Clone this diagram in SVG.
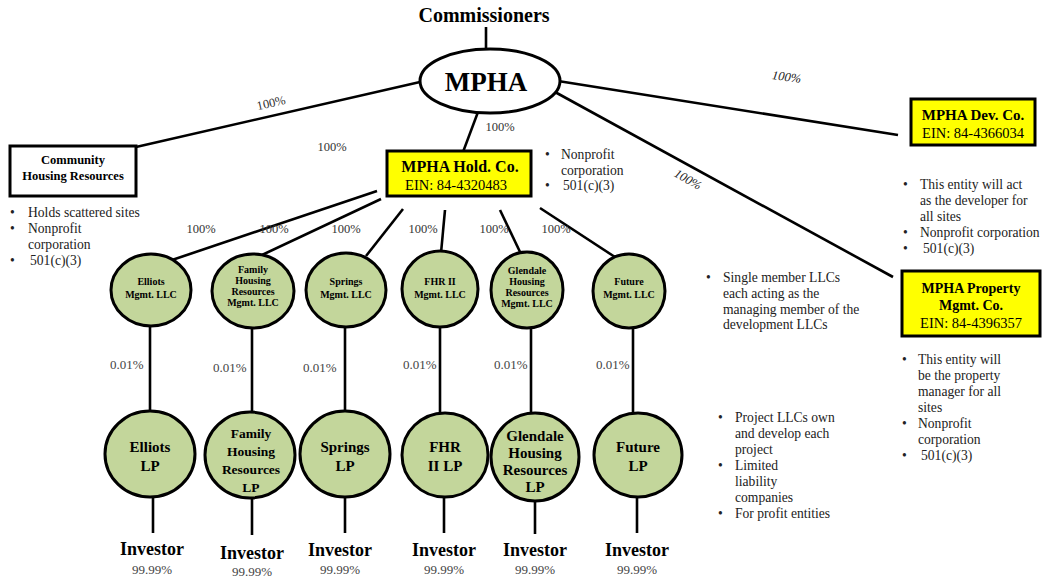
<svg xmlns="http://www.w3.org/2000/svg" width="1044" height="579" viewBox="0 0 1044 579">
<style>
text{font-family:"Liberation Serif","Times New Roman",serif;fill:#000}
.b{font-weight:bold}
.c{text-anchor:middle}
.lbl{font-size:12.5px;fill:#333}
.pc{font-size:13px;fill:#444}
.it{font-size:12.5px;font-style:italic;fill:#222}
.bul{font-size:13.6px;fill:#222}
.ln{stroke:#000;stroke-width:2.6;fill:none}
.g{fill:#c3d69b;stroke:#000;stroke-width:3}
.y{fill:#ffff00;stroke:#000;stroke-width:3}
.w{fill:#fff;stroke:#000;stroke-width:3}
.m{font-size:10px;font-weight:bold}
.lp{font-size:15px;font-weight:bold}
.lps{font-size:13.5px;font-weight:bold}
.inv{font-size:18px;font-weight:bold}
</style>
<rect width="1044" height="579" fill="#fff"/>
<g id="connectors">
<line class="ln" x1="486" y1="27" x2="486" y2="49"/>
<line class="ln" x1="420" y1="82" x2="136" y2="147"/>
<line class="ln" x1="478" y1="112" x2="463" y2="152"/>
<line class="ln" x1="558" y1="81" x2="898" y2="135"/>
<line class="ln" x1="555" y1="92" x2="893" y2="277"/>
<line class="ln" x1="377" y1="191" x2="172" y2="260"/>
<line class="ln" x1="381" y1="199" x2="262" y2="255"/>
<line class="ln" x1="403" y1="209" x2="366" y2="256"/>
<line class="ln" x1="445" y1="210" x2="441" y2="253"/>
<line class="ln" x1="500" y1="210" x2="521" y2="254"/>
<line class="ln" x1="540" y1="208" x2="615" y2="257"/>
<line class="ln" x1="150" y1="326" x2="150" y2="411"/>
<line class="ln" x1="252" y1="328" x2="252" y2="413"/>
<line class="ln" x1="345" y1="327" x2="345" y2="411"/>
<line class="ln" x1="440" y1="327" x2="440" y2="413"/>
<line class="ln" x1="531" y1="328" x2="531" y2="413"/>
<line class="ln" x1="633" y1="328" x2="633" y2="413"/>
<line class="ln" x1="153" y1="497" x2="153" y2="533"/>
<line class="ln" x1="252" y1="498" x2="252" y2="535"/>
<line class="ln" x1="345" y1="497" x2="345" y2="533"/>
<line class="ln" x1="444" y1="497" x2="444" y2="533"/>
<line class="ln" x1="535" y1="500" x2="535" y2="534"/>
<line class="ln" x1="637" y1="497" x2="637" y2="533"/>
<text class="lbl" transform="translate(272,107) rotate(-13)" text-anchor="middle">100%</text>
<text class="lbl c" x="500" y="131">100%</text>
<text class="lbl c" x="332" y="151">100%</text>
<text class="it c" transform="translate(786,81) rotate(8)">100%</text>
<text class="it c" transform="translate(686,183) rotate(30)">100%</text>
<text class="lbl c" x="201" y="233">100%</text>
<text class="lbl c" x="274" y="233">100%</text>
<text class="lbl c" x="346" y="233">100%</text>
<text class="lbl c" x="423" y="233">100%</text>
<text class="lbl c" x="494" y="233">100%</text>
<text class="lbl c" x="556" y="233">100%</text>
<text class="pc" x="110" y="369">0.01%</text>
<text class="pc" x="213" y="372">0.01%</text>
<text class="pc" x="303" y="372">0.01%</text>
<text class="pc" x="403" y="369">0.01%</text>
<text class="pc" x="494" y="369">0.01%</text>
<text class="pc" x="596" y="369">0.01%</text>
</g>
<g id="commissioners"><text class="b c" x="484" y="22" font-size="20">Commissioners</text></g>
<g id="mpha"><ellipse class="w" cx="490" cy="81" rx="70" ry="32"/><text class="b c" x="486" y="91" font-size="27">MPHA</text></g>
<g id="chr">
<rect class="w" x="10" y="146" width="126" height="50"/>
<text class="b c" x="73" y="164" font-size="12.5">Community</text>
<text class="b c" x="73" y="180" font-size="12.5">Housing Resources</text>
<text class="bul" x="10" y="217">•</text><text class="bul" x="28" y="217">Holds scattered sites</text>
<text class="bul" x="10" y="233">•</text><text class="bul" x="28" y="233">Nonprofit</text>
<text class="bul" x="28" y="249">corporation</text>
<text class="bul" x="10" y="265">•</text><text class="bul" x="30" y="265">501(c)(3)</text>
</g>
<g id="holdco">
<rect class="y" x="387" y="151" width="144" height="45"/>
<text class="b c" x="460" y="172" font-size="16">MPHA Hold. Co.</text>
<text class="c" x="456" y="190" font-size="14.5">EIN: 84-4320483</text>
<text class="bul" x="545" y="159">•</text><text class="bul" x="561" y="159">Nonprofit</text>
<text class="bul" x="561" y="175">corporation</text>
<text class="bul" x="545" y="190">•</text><text class="bul" x="563" y="190">501(c)(3)</text>
</g>
<g id="devco">
<rect class="y" x="911" y="99" width="124" height="46"/>
<text class="b c" x="973" y="120" font-size="15">MPHA Dev. Co.</text>
<text class="c" x="973" y="138" font-size="14.5">EIN: 84-4366034</text>
<text class="bul" x="903" y="189">•</text><text class="bul" x="920" y="189">This entity will act</text>
<text class="bul" x="920" y="205">as the developer for</text>
<text class="bul" x="920" y="221">all sites</text>
<text class="bul" x="903" y="237">•</text><text class="bul" x="920" y="237">Nonprofit corporation</text>
<text class="bul" x="903" y="253">•</text><text class="bul" x="923" y="253">501(c)(3)</text>
</g>
<g id="propco">
<rect class="y" x="902" y="271" width="138" height="65"/>
<text class="b c" x="971" y="293" font-size="14">MPHA Property</text>
<text class="b c" x="971" y="310" font-size="14">Mgmt. Co.</text>
<text class="c" x="971" y="328" font-size="14.5">EIN: 84-4396357</text>
<text class="bul" x="902" y="364">•</text><text class="bul" x="918" y="364">This entity will</text>
<text class="bul" x="918" y="380">be the property</text>
<text class="bul" x="918" y="396">manager for all</text>
<text class="bul" x="918" y="412">sites</text>
<text class="bul" x="902" y="428">•</text><text class="bul" x="918" y="428">Nonprofit</text>
<text class="bul" x="918" y="444">corporation</text>
<text class="bul" x="902" y="460">•</text><text class="bul" x="921" y="460">501(c)(3)</text>
</g>
<g id="note-llc">
<text class="bul" x="706" y="282">•</text><text class="bul" x="723" y="282">Single member LLCs</text>
<text class="bul" x="723" y="298">each acting as the</text>
<text class="bul" x="723" y="314">managing member of the</text>
<text class="bul" x="723" y="329">development LLCs</text>
</g>
<g id="note-project">
<text class="bul" x="718" y="422">•</text><text class="bul" x="735" y="422">Project LLCs own</text>
<text class="bul" x="735" y="438">and develop each</text>
<text class="bul" x="735" y="454">project</text>
<text class="bul" x="718" y="470">•</text><text class="bul" x="735" y="470">Limited</text>
<text class="bul" x="735" y="486">liability</text>
<text class="bul" x="735" y="502">companies</text>
<text class="bul" x="718" y="518">•</text><text class="bul" x="735" y="518">For profit entities</text>
</g>
<g id="elliots-mgmt"><ellipse class="g" cx="151" cy="290" rx="40" ry="36"/><text class="m c" x="151" y="285">Elliots</text><text class="m c" x="151" y="298">Mgmt. LLC</text></g>
<g id="family-mgmt"><ellipse class="g" cx="253" cy="291" rx="41" ry="37"/><text class="m c" x="253" y="273">Family</text><text class="m c" x="253" y="284">Housing</text><text class="m c" x="253" y="295">Resources</text><text class="m c" x="253" y="306">Mgmt. LLC</text></g>
<g id="springs-mgmt"><ellipse class="g" cx="346" cy="290" rx="40" ry="37"/><text class="m c" x="346" y="285">Springs</text><text class="m c" x="346" y="298">Mgmt. LLC</text></g>
<g id="fhr-mgmt"><ellipse class="g" cx="440" cy="289" rx="38" ry="38"/><text class="m c" x="440" y="285">FHR II</text><text class="m c" x="440" y="298">Mgmt. LLC</text></g>
<g id="glendale-mgmt"><ellipse class="g" cx="527" cy="290" rx="36" ry="38"/><text class="m c" x="527" y="274">Glendale</text><text class="m c" x="527" y="285">Housing</text><text class="m c" x="527" y="296">Resources</text><text class="m c" x="527" y="307">Mgmt. LLC</text></g>
<g id="future-mgmt"><ellipse class="g" cx="629" cy="291" rx="36" ry="37"/><text class="m c" x="629" y="285">Future</text><text class="m c" x="629" y="298">Mgmt. LLC</text></g>
<g id="elliots-lp"><ellipse class="g" cx="150" cy="454" rx="45" ry="43"/><text class="lp c" x="150" y="452">Elliots</text><text class="lp c" x="150" y="471">LP</text></g>
<g id="family-lp"><ellipse class="g" cx="250" cy="455" rx="45" ry="43"/><text class="lps c" x="251" y="438">Family</text><text class="lps c" x="251" y="456">Housing</text><text class="lps c" x="251" y="474">Resources</text><text class="lps c" x="251" y="492">LP</text></g>
<g id="springs-lp"><ellipse class="g" cx="345" cy="454" rx="45" ry="43"/><text class="lp c" x="345" y="452">Springs</text><text class="lp c" x="345" y="471">LP</text></g>
<g id="fhr-lp"><ellipse class="g" cx="445" cy="455" rx="43" ry="42"/><text class="lp c" x="445" y="452">FHR</text><text class="lp c" x="445" y="471">II LP</text></g>
<g id="glendale-lp"><ellipse class="g" cx="535" cy="457" rx="44" ry="44"/><text class="lp c" x="535" y="441">Glendale</text><text class="lp c" x="535" y="458">Housing</text><text class="lp c" x="535" y="475">Resources</text><text class="lp c" x="535" y="492">LP</text></g>
<g id="future-lp"><ellipse class="g" cx="638" cy="455" rx="44" ry="42"/><text class="lp c" x="638" y="452">Future</text><text class="lp c" x="638" y="471">LP</text></g>
<g id="investors">
<text class="inv c" x="152" y="555">Investor</text><text class="pc c" x="152" y="574">99.99%</text>
<text class="inv c" x="252" y="559">Investor</text><text class="pc c" x="252" y="576">99.99%</text>
<text class="inv c" x="340" y="556">Investor</text><text class="pc c" x="340" y="574">99.99%</text>
<text class="inv c" x="444" y="556">Investor</text><text class="pc c" x="444" y="574">99.99%</text>
<text class="inv c" x="535" y="556">Investor</text><text class="pc c" x="535" y="574">99.99%</text>
<text class="inv c" x="637" y="556">Investor</text><text class="pc c" x="637" y="574">99.99%</text>
</g>
</svg>
